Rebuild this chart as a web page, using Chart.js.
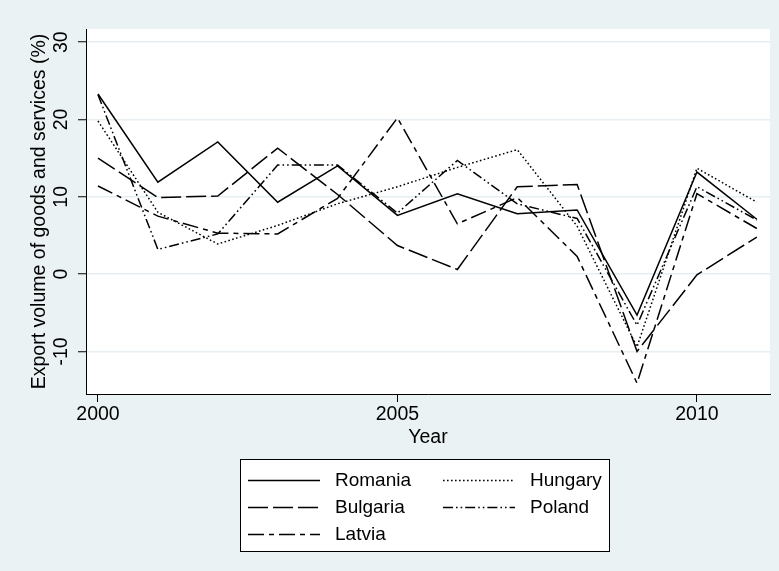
<!DOCTYPE html>
<html>
<head>
<meta charset="utf-8">
<title>Export volume of goods and services</title>
<script src="https://cdn.jsdelivr.net/npm/chart.js@4.4.1/dist/chart.umd.min.js"></script>
<style>
  html, body { margin: 0; padding: 0; background: #eaf2f3; }
  canvas { display: block; }
</style>
</head>
<body>
<canvas id="chart" width="779" height="571"></canvas>
<script>
// Annual growth of export volume, goods and services (%)
const years    = [2000, 2001, 2002, 2003, 2004, 2005, 2006, 2007, 2008, 2009, 2010, 2011];
const romania  = [23.3, 11.9, 17.1,  9.3, 14.0,  7.6, 10.4,  7.8,  8.3,  -5.3, 13.2, 7.1];
const hungary  = [19.8,  8.0,  3.9,  6.3,  9.1, 11.3, 13.8, 16.1,  6.2,  -9.4, 13.7, 9.3];
const bulgaria = [15.0,  9.9, 10.1, 16.3, 10.3,  3.7,  0.6, 11.3, 11.6, -10.0, -0.1, 4.8];
const poland   = [23.2,  3.2,  5.2, 14.1, 14.1,  7.9, 14.7,  9.1,  7.2,  -6.6, 11.3, 7.0];
const latvia   = [11.4,  7.5,  5.3,  5.2,  9.8, 20.2,  6.5,  9.9,  2.3, -14.1, 10.4, 5.9];

const countries = ['Romania', 'Hungary', 'Bulgaria', 'Poland', 'Latvia'];
const seriesValues = [romania, hungary, bulgaria, poland, latvia];

const xTicks = [2000, 2005, 2010];
const yTicks = [-10, 0, 10, 20, 30];

// Line pattern for each country
const lineStyles = {
  Romania:  [],
  Hungary:  [1.6, 2.4],
  Bulgaria: [20, 5],
  Poland:   [10, 3, 1.6, 3, 1.6, 3],
  Latvia:   [16, 5, 5, 5]
};

const BG = '#eaf2f3';
const GRID = '#e6eef1';
const FONT = { family: '"Liberation Sans", Arial, sans-serif', size: 19.5 };

const datasets = countries.map((name, i) => ({
  label: name,
  data: years.map((yr, j) => ({ x: yr, y: seriesValues[i][j] })),
  borderColor: '#000',
  borderWidth: 1.5,
  borderDash: lineStyles[name],
  borderCapStyle: 'butt',
  borderJoinStyle: 'miter',
  pointRadius: 0,
  fill: false,
  tension: 0
}));

// Light graph region with a white plot region
const backdrop = {
  id: 'backdrop',
  beforeDraw(chart) {
    const { ctx, chartArea: a } = chart;
    ctx.save();
    ctx.fillStyle = BG;
    ctx.fillRect(0, 0, chart.width, chart.height);
    ctx.fillStyle = '#fff';
    ctx.fillRect(a.left, a.top, a.right - a.left, a.bottom - a.top);
    ctx.restore();
  }
};

// Boxed two-column legend below the x axis title
const boxLegend = {
  id: 'boxLegend',
  afterDraw(chart) {
    const { ctx } = chart;
    const box = { x: 240.5, y: 459.5, w: 369, h: 92 };
    const cols = [{ line: 248, text: 335 }, { line: 443, text: 530 }];
    const rows = [480, 507, 534];
    const sampleLen = 72;
    ctx.save();
    ctx.fillStyle = '#fff';
    ctx.fillRect(box.x, box.y, box.w, box.h);
    ctx.strokeStyle = '#000';
    ctx.lineWidth = 1;
    ctx.setLineDash([]);
    ctx.strokeRect(box.x, box.y, box.w, box.h);
    ctx.font = '19px "Liberation Sans", Arial, sans-serif';
    ctx.textBaseline = 'middle';
    ctx.textAlign = 'left';
    chart.data.datasets.forEach((ds, i) => {
      const c = cols[i % 2];
      const y = rows[Math.floor(i / 2)];
      ctx.strokeStyle = ds.borderColor;
      ctx.lineWidth = ds.borderWidth;
      ctx.lineCap = 'butt';
      ctx.setLineDash(ds.borderDash);
      ctx.beginPath();
      ctx.moveTo(c.line, y + 0.5);
      ctx.lineTo(c.line + sampleLen, y + 0.5);
      ctx.stroke();
      ctx.setLineDash([]);
      ctx.fillStyle = '#000';
      ctx.fillText(ds.label, c.text, y + 1);
    });
    ctx.restore();
  }
};

new Chart(document.getElementById('chart'), {
  type: 'line',
  data: { datasets },
  plugins: [backdrop, boxLegend],
  options: {
    responsive: false,
    animation: false,
    devicePixelRatio: 1,
    layout: { padding: { left: 19, top: 29, right: 9, bottom: 117 } },
    plugins: {
      legend: { display: false },
      tooltip: { enabled: false },
      title: { display: false }
    },
    scales: {
      x: {
        type: 'linear',
        min: 1999.8,
        max: 2011.22,
        afterBuildTicks: s => { s.ticks = xTicks.map(v => ({ value: v })); },
        afterFit: s => { s.height = 60; },
        grid: { drawOnChartArea: false, drawTicks: true, tickLength: 8, tickColor: '#000', tickWidth: 1 },
        border: { display: true, color: '#000', width: 1 },
        ticks: { font: FONT, color: '#000', maxRotation: 0, minRotation: 0, padding: 1, callback: v => String(v) },
        title: { display: true, text: 'Year', font: FONT, color: '#000', padding: { top: 0, bottom: 5 } }
      },
      y: {
        type: 'linear',
        min: -15.5,
        max: 31.7,
        afterBuildTicks: s => { s.ticks = yTicks.map(v => ({ value: v })); },
        afterFit: s => { s.width = 67; },
        grid: { color: GRID, lineWidth: 1.5, drawTicks: true, tickLength: 8, tickColor: '#000', tickWidth: 1 },
        border: { display: true, color: '#000', width: 1 },
        ticks: { font: FONT, color: '#000', minRotation: 90, maxRotation: 90, crossAlign: 'center', padding: 2, callback: v => String(v) },
        title: { display: true, text: 'Export volume of goods and services (%)', font: FONT, color: '#000', padding: { top: 9, bottom: 0 } }
      }
    }
  }
});
</script>
</body>
</html>
